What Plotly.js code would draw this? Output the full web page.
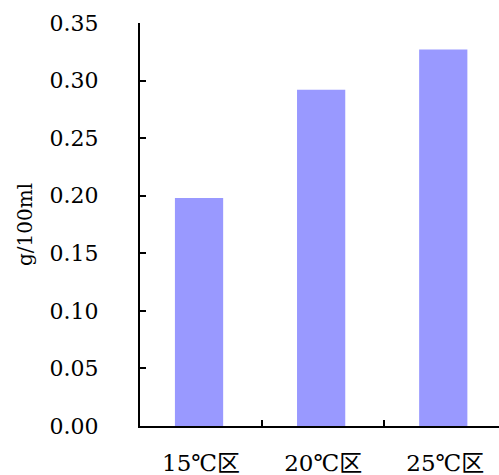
<!DOCTYPE html>
<html>
<head>
<meta charset="utf-8">
<script src="https://cdn.plot.ly/plotly-3.0.1.min.js"></script>
<style>html,body{margin:0;padding:0;background:#fff;}#chart{width:499px;height:475px;}</style>
</head>
<body>
<div id="chart"></div>
<script>
const categories = ["15℃区", "20℃区", "25℃区"];
const values = [0.198, 0.292, 0.327];
const yTickVals = [0, 0.05, 0.10, 0.15, 0.20, 0.25, 0.30, 0.35];
const yTickText = ["0.00", "0.05", "0.10", "0.15", "0.20", "0.25", "0.30", "0.35"];
const yTitle = "g/100ml";

const fontFam = "DejaVu Serif, Liberation Serif, Noto Sans CJK SC, serif";

const trace = {
  type: "bar",
  x: categories,
  y: values,
  marker: {color: "#9999FF", line: {width: 0}},
  width: 0.395,
  offset: -0.214,
  hoverinfo: "none"
};

const layout = {
  width: 499,
  height: 475,
  margin: {l: 140, r: 0, t: 23, b: 49},
  paper_bgcolor: "#ffffff",
  plot_bgcolor: "#ffffff",
  showlegend: false,
  xaxis: {
    type: "category",
    range: [-0.5, 2.44],
    showgrid: false,
    zeroline: false,
    showline: true,
    linecolor: "#000",
    linewidth: 2,
    ticks: "inside",
    tickson: "boundaries",
    ticklen: 6,
    tickwidth: 2,
    tickcolor: "#000",
    ticklabelstandoff: 15,
    tickfont: {family: fontFam, size: 23, color: "#000"}
  },
  yaxis: {
    range: [0, 0.35],
    showgrid: false,
    zeroline: false,
    showline: true,
    linecolor: "#000",
    linewidth: 2,
    ticks: "inside",
    ticklen: 6,
    tickwidth: 2,
    tickcolor: "#000",
    tickvals: yTickVals,
    ticktext: yTickText,
    ticklabelstandoff: 35,
    tickfont: {family: fontFam, size: 22, color: "#000"},
    title: {text: yTitle, font: {family: fontFam, size: 20, color: "#000"}, standoff: 12}
  }
};

Plotly.newPlot("chart", [trace], layout, {staticPlot: true, displayModeBar: false});
</script>
</body>
</html>
